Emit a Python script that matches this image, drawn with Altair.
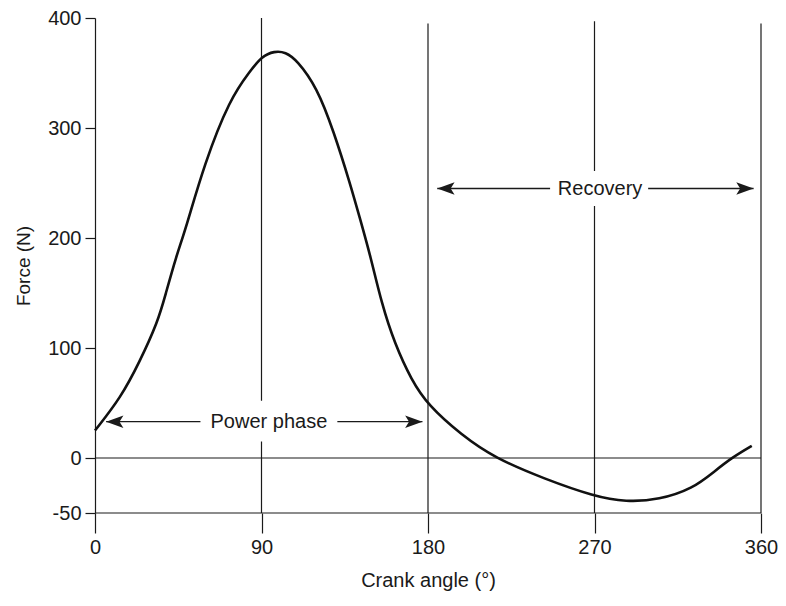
import altair as alt
import pandas as pd

# Curve (crank angle in degrees, force in N)
angle = [0, 14, 24, 34, 38, 44, 49, 59, 73, 84, 90, 97, 103, 109, 120, 129, 138, 143,
         149, 155, 162, 171, 180, 198, 216, 243, 270, 287, 305, 323, 335, 344, 355]
force = [25, 55, 87, 124, 148, 184, 208, 267, 327, 352, 365, 370, 369, 362, 337, 297, 249, 219,
         183, 140, 104, 71, 48, 21, 0, -19, -35, -40, -38, -28, -12, 0, 11]

x_ticks = [0, 90, 180, 270, 360]
y_ticks = [-50, 0, 100, 200, 300, 400]

# vertical reference lines
vline_x = [90, 180, 270, 360]
vline_top = [400, 395, 397, 395]
# horizontal reference lines
hline_y = [0, -50]

# annotations
labels = ["Power phase", "Recovery"]
label_x = [94, 273]
label_y = [33, 245]
arrow_start = [6, 185]
arrow_end = [177, 356]
gap_x1 = [57, 246]
gap_x2 = [131, 299]
gap_y1 = [15, 229]
gap_y2 = [52, 261]

FONT = "Liberation Sans"
INK = "#1a1a1a"

xs = alt.Scale(domain=[0, 360], nice=False, zero=False)
ys = alt.Scale(domain=[-50, 400], nice=False, zero=False)

X_TITLE = "Crank angle (°)"
Y_TITLE = "Force (N)"

curve_df = pd.DataFrame({"angle": angle, "force": force})
vl_df = pd.DataFrame({"x": vline_x, "top": vline_top, "bot": [-50] * len(vline_x)})
hl_df = pd.DataFrame({"y": hline_y, "x1": [0] * len(hline_y), "x2": [360] * len(hline_y)})
ann_df = pd.DataFrame({
    "label": labels, "lx": label_x, "ly": label_y,
    "a1": arrow_start, "a2": arrow_end,
    "gx1": gap_x1, "gx2": gap_x2, "gy1": gap_y1, "gy2": gap_y2,
})
heads_left = pd.DataFrame({"x": arrow_start, "y": label_y})
heads_right = pd.DataFrame({"x": arrow_end, "y": label_y})

x_axis = alt.Axis(
    values=x_ticks, tickSize=20, tickWidth=1.2, tickColor=INK,
    domain=False, grid=False, labelFlush=False,
    labelFont=FONT, labelFontSize=20, labelColor=INK, labelPadding=4,
    title=X_TITLE, titleFont=FONT, titleFontSize=20,
    titleFontWeight="normal", titleColor=INK, titlePadding=13,
)
y_axis = alt.Axis(
    values=y_ticks, tickSize=10, tickWidth=1.2, tickColor=INK,
    domain=True, domainColor=INK, domainWidth=1.2,
    grid=False, labelFlush=False, labelExpr="'' + datum.value",
    labelFont=FONT, labelFontSize=20, labelColor=INK, labelPadding=4,
    title=Y_TITLE, titleFont=FONT, titleFontSize=19,
    titleFontWeight="normal", titleColor=INK, titlePadding=14,
)


def X(field):
    return alt.X(field, type="quantitative", scale=xs, axis=x_axis, title=X_TITLE)


def Y(field):
    return alt.Y(field, type="quantitative", scale=ys, axis=y_axis, title=Y_TITLE)


curve = alt.Chart(curve_df).mark_line(
    color="#111111", strokeWidth=2.6, interpolate="basis"
).encode(x=X("angle"), y=Y("force"))

vlines = alt.Chart(vl_df).mark_rule(color=INK, strokeWidth=1.2).encode(
    x=X("x"), y=Y("top"), y2="bot:Q",
)

hlines = alt.Chart(hl_df).mark_rule(color=INK, strokeWidth=1.2).encode(
    y=Y("y"), x=X("x1"), x2="x2:Q",
)

arrow_lines = alt.Chart(ann_df).mark_rule(color=INK, strokeWidth=1.3).encode(
    x=X("a1"), x2="a2:Q", y=Y("ly"),
)

gaps = alt.Chart(ann_df).mark_rect(color="white").encode(
    x=X("gx1"), x2="gx2:Q", y=Y("gy1"), y2="gy2:Q",
)

texts = alt.Chart(ann_df).mark_text(
    font=FONT, fontSize=20, color=INK, align="center", baseline="middle"
).encode(x=X("lx"), y=Y("ly"), text="label:N")

left_head = alt.Chart(heads_left).mark_point(
    shape="M0,0 L2,-0.72 L1.55,0 L2,0.72 Z", size=300, filled=True, color=INK, opacity=1
).encode(x=X("x"), y=Y("y"))

right_head = alt.Chart(heads_right).mark_point(
    shape="M0,0 L-2,-0.72 L-1.55,0 L-2,0.72 Z", size=300, filled=True, color=INK, opacity=1
).encode(x=X("x"), y=Y("y"))

chart = alt.layer(
    vlines, hlines, arrow_lines, gaps, texts, left_head, right_head, curve
).properties(
    width=666, height=495,
    autosize=alt.AutoSizeParams(type="none"),
    padding={"left": 87, "top": 10, "right": 17, "bottom": 80},
    background="white",
).configure_view(stroke=None)

chart.save("out.html", embed_options={"renderer": "svg", "actions": False})
